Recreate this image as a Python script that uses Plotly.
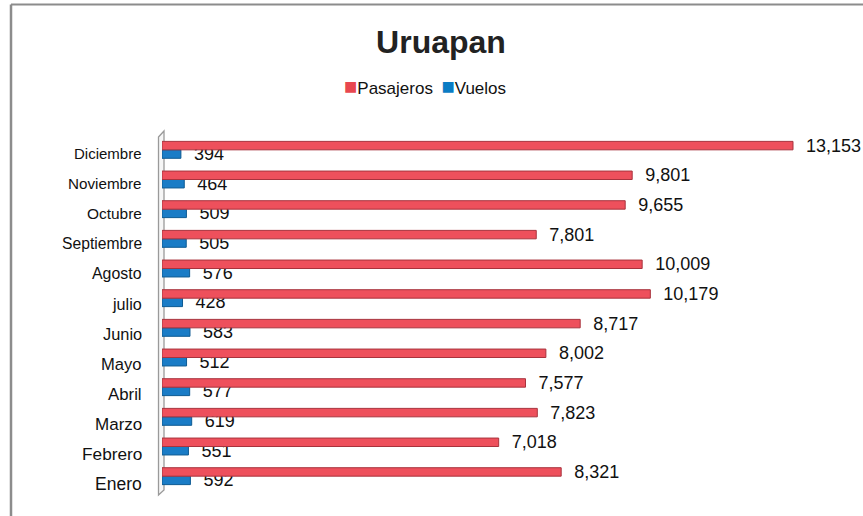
import plotly.graph_objects as go

months = ["Enero", "Febrero", "Marzo", "Abril", "Mayo", "Junio", "julio",
          "Agosto", "Septiembre", "Octubre", "Noviembre", "Diciembre"]
pasajeros = [8321, 7018, 7823, 7577, 8002, 8717, 10179, 10009, 7801, 9655, 9801, 13153]
vuelos = [592, 551, 619, 577, 512, 583, 428, 576, 505, 509, 464, 394]
series_names = ["Pasajeros", "Vuelos"]
series_colors = ["#E8474F", "#0A7CC4"]

W, H = 863, 516
L, R, T, B = 162, 13, 135, 25
pw, ph = W - L - R, H - T - B


def px(x):
    return (x - L) / pw


def py(y):
    return (H - B - y) / ph


FONT = "Liberation Sans, Arial"

fig = go.Figure()
fig.add_trace(go.Bar(
    y=months, x=vuelos, orientation="h", name=series_names[1],
    marker=dict(color="#1A7CC6", line=dict(color="#0D5A92", width=1)),
    texttemplate="\u00a0\u00a0%{x:,.0f}", textposition="outside",
    textfont=dict(size=18, color="#111111", family=FONT),
    constraintext="none", cliponaxis=False, showlegend=False, hoverinfo="skip",
))
fig.add_trace(go.Bar(
    y=months, x=pasajeros, orientation="h", name=series_names[0],
    marker=dict(color="#EE505C", line=dict(color="#A8333D", width=1)),
    texttemplate="\u00a0\u00a0%{x:,.0f}", textposition="outside",
    textfont=dict(size=18, color="#111111", family=FONT),
    constraintext="none", cliponaxis=False, showlegend=False, hoverinfo="skip",
))

annotations = []
n = len(months)
for i, m in enumerate(months):
    size = 17.5 - 2.5 * i / (n - 1)
    annotations.append(dict(
        x=0, xref="paper", y=m, yref="y", text=m, showarrow=False,
        xanchor="right", yanchor="middle", xshift=-18, yshift=-8 + 4 * i / (n - 1),
        font=dict(size=size, color="#111111", family=FONT),
    ))

legend_text = "\u2002".join(
    f'<span style="color:{c};font-size:22px">\u25A0</span>{nm}'
    for nm, c in zip(series_names, series_colors)
)
annotations.append(dict(
    x=px(425), xref="paper", y=py(87), yref="paper", text=legend_text,
    showarrow=False, xanchor="center", yanchor="middle",
    font=dict(size=17, color="#111111", family=FONT),
))

wall = (f"M {px(158.5)} {py(137)} L {px(164)} {py(131)} L {px(164)} {py(490)} "
        f"L {px(158.5)} {py(495)} Z")
shapes = [
    dict(type="path", xref="paper", yref="paper", path=wall,
         line=dict(color="#9A9A9A", width=1.3), fillcolor="rgba(240,240,240,0.6)", layer="below"),
    dict(type="line", xref="paper", yref="paper", x0=px(11), x1=px(875), y0=py(4.5), y1=py(4.5),
         line=dict(color="#8C8C8C", width=2)),
    dict(type="line", xref="paper", yref="paper", x0=px(11), x1=px(11), y0=py(4.5), y1=py(525),
         line=dict(color="#8C8C8C", width=2.5)),
]

fig.update_layout(
    width=W, height=H,
    margin=dict(l=L, r=R, t=T, b=B, pad=0),
    paper_bgcolor="white", plot_bgcolor="white",
    barmode="group", bargap=0.43, bargroupgap=0,
    showlegend=False,
    title=dict(text="<b>Uruapan</b>", x=441 / W, xref="container", xanchor="center",
               y=1 - 42 / H, yref="container", yanchor="middle",
               font=dict(size=32, color="#222222", family=FONT)),
    xaxis=dict(range=[0, 13153 * pw / 631], visible=False, fixedrange=True),
    yaxis=dict(categoryorder="array", categoryarray=months, range=[-0.5, len(months) - 0.5],
               autorange=False, showticklabels=False,
               showgrid=False, zeroline=False, showline=False, ticks="", fixedrange=True),
    annotations=annotations,
    shapes=shapes,
    font=dict(family=FONT),
)

fig.write_html(
    "out.html",
    config={"displayModeBar": False},
    post_script="document.body.style.margin='0';document.body.style.overflow='hidden';",
)
